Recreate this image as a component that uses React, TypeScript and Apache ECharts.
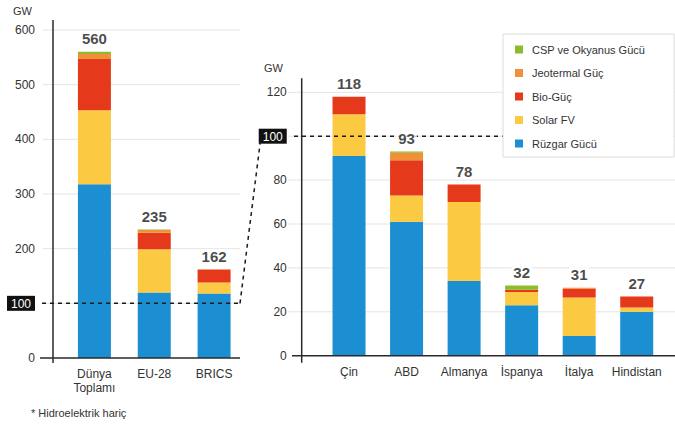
import { useEffect, useRef } from "react";
import * as echarts from "echarts";

// Installed renewable capacity (GW), hydro excluded
const leftCategories = ["Dünya\nToplamı", "EU-28", "BRICS"];
const rightCategories = ["Çin", "ABD", "Almanya", "İspanya", "İtalya", "Hindistan"];

const seriesNames = ["Rüzgar Gücü", "Solar FV", "Bio-Güç", "Jeotermal Güç", "CSP ve Okyanus Gücü"];
const legendOrder = ["CSP ve Okyanus Gücü", "Jeotermal Güç", "Bio-Güç", "Solar FV", "Rüzgar Gücü"];
const seriesColors = ["#1b8fd1", "#fcc942", "#e5391b", "#f0913a", "#8dbb2a"];

const leftWind = [318, 120, 118];
const leftSolar = [135, 79, 20];
const leftBio = [94, 30, 24];
const leftGeo = [9, 5, 0];
const leftCsp = [4, 1, 0];
const leftTotals = [560, 235, 162];

const rightWind = [91, 61, 34, 23, 9, 20];
const rightSolar = [19, 12, 36, 6, 17.5, 2];
const rightBio = [8, 16, 8, 1, 4, 5];
const rightGeo = [0, 3.5, 0, 0, 0.5, 0];
const rightCsp = [0, 0.5, 0, 2, 0, 0];
const rightTotals = [118, 93, 78, 32, 31, 27];

const leftTicks = [0, 100, 200, 300, 400, 500, 600];
const rightTicks = [0, 20, 40, 60, 80, 100, 120];
const threshold = 100;
const unitLabel = "GW";
const footnote = "* Hidroelektrik hariç";

const FONT = "'Liberation Sans', Arial, sans-serif";
const TEXT = "#333";

export default function App() {
  const ref = useRef<HTMLDivElement>(null);

  useEffect(() => {
    if (!ref.current) return;
    const chart = echarts.init(ref.current, undefined, { renderer: "svg" });

    const leftData = [leftWind, leftSolar, leftBio, leftGeo, leftCsp];
    const rightData = [rightWind, rightSolar, rightBio, rightGeo, rightCsp];

    const boxLabel = (v: number) => (v === threshold ? `{box|${v}}` : `${v}`);
    const rich = {
      box: {
        backgroundColor: "#111",
        color: "#fff",
        fontSize: 12,
        fontFamily: FONT,
        padding: [2, 4, 1, 4],
      },
    };

    const makeBars = (data: number[][], idx: number, stack: string) =>
      data.map((vals, i) => ({
        type: "bar",
        name: seriesNames[i],
        xAxisIndex: idx,
        yAxisIndex: idx,
        stack,
        barWidth: 33,
        itemStyle: { color: seriesColors[i] },
        data: vals,
        z: 2,
      }));

    const makeTotals = (totals: number[], idx: number) => ({
      type: "scatter",
      name: "Toplam",
      xAxisIndex: idx,
      yAxisIndex: idx,
      symbolSize: 1,
      itemStyle: { color: "rgba(0,0,0,0)" },
      z: 20,
      label: {
        show: true,
        position: "top",
        distance: 5,
        fontSize: 15,
        fontWeight: "bold",
        fontFamily: FONT,
        color: "#1a1a1a",
        backgroundColor: "#fff",
        padding: [0, 2],
        formatter: (p: any) => `${p.value}`,
      },
      data: totals,
    });

    const yAxisBase = {
      type: "value",
      min: 0,
      splitLine: { show: false },
      axisLine: { show: false },
      axisTick: { show: false },
    };

    chart.setOption({
      animation: false,
      backgroundColor: "#fff",
      textStyle: { fontFamily: FONT },
      legend: {
        data: legendOrder,
        orient: "vertical",
        left: 503,
        top: 34,
        z: 30,
        backgroundColor: "#fff",
        borderColor: "#dcdcdc",
        borderWidth: 1,
        padding: [10, 29, 8, 12],
        itemWidth: 8,
        itemHeight: 8,
        itemGap: 12.5,
        icon: "rect",
        selectedMode: false,
        textStyle: { fontSize: 11, color: TEXT, fontFamily: FONT, padding: [0, 0, 0, 4] },
      },
      grid: [
        { left: 64.5, top: 30, width: 179.5, height: 328, outerBoundsMode: "none" },
        { left: 320.25, top: 92.3, width: 345.25, height: 263.4, outerBoundsMode: "none" },
      ],
      xAxis: [0, 1].map((i) => ({
        type: "category",
        gridIndex: i,
        data: i === 0 ? leftCategories : rightCategories,
        axisLine: { show: false },
        axisTick: { show: false },
        axisLabel: {
          interval: 0,
          fontSize: 12,
          color: TEXT,
          fontFamily: FONT,
          margin: 9,
          lineHeight: 14,
        },
      })),
      yAxis: [
        {
          ...yAxisBase,
          gridIndex: 0,
          max: leftTicks[leftTicks.length - 1],
          interval: 100,
          offset: 11.5,
          axisLabel: { fontSize: 12, color: TEXT, fontFamily: FONT, margin: 18, formatter: boxLabel, rich },
        },
        {
          ...yAxisBase,
          gridIndex: 1,
          max: rightTicks[rightTicks.length - 1],
          interval: 20,
          offset: 18.5,
          axisLabel: { fontSize: 12, color: TEXT, fontFamily: FONT, margin: 15, formatter: boxLabel, rich },
        },
      ],
      series: [
        ...makeBars(leftData, 0, "left"),
        makeTotals(leftTotals, 0),
        ...makeBars(rightData, 1, "right"),
        makeTotals(rightTotals, 1),
      ],
    });

    // Guides, axes and the 100 GW link line, placed through the axis scales
    const yL = (v: number) => chart.convertToPixel({ yAxisIndex: 0 }, v) as number;
    const yR = (v: number) => chart.convertToPixel({ yAxisIndex: 1 }, v) as number;
    const axisXL = 53;
    const axisXR = 301.7;

    const line = (x1: number, y1: number, x2: number, y2: number, style: any, z: number) => ({
      type: "line",
      silent: true,
      z,
      shape: { x1, y1, x2, y2 },
      style,
    });
    const gridStyle = { stroke: "#e4e4e4", lineWidth: 1 };
    const axisStyle = { stroke: "#2a2a2a", lineWidth: 1.5 };
    const dashStyle = { stroke: "#1a1a1a", lineWidth: 1.5, lineDash: [4, 4] };

    const elements: any[] = [];
    leftTicks
      .filter((t) => t !== 0)
      .forEach((t) => elements.push(line(43, yL(t), 240, yL(t), gridStyle, 0)));
    rightTicks
      .filter((t) => t !== 0)
      .forEach((t) => elements.push(line(288, yR(t), 675, yR(t), gridStyle, 0)));

    elements.push(line(axisXL, yL(600) - 10, axisXL, yL(0) + 5, axisStyle, 5));
    elements.push(line(axisXR, yR(120) - 14, axisXR, yR(0) + 7, axisStyle, 5));
    elements.push(line(40, yL(0), 240, yL(0), axisStyle, 5));
    elements.push(line(292, yR(0), 675, yR(0), axisStyle, 5));

    elements.push(line(42, yL(threshold), 240, yL(threshold), dashStyle, 10));
    elements.push(line(240, yL(threshold), 261, yR(threshold), dashStyle, 10));
    elements.push(line(294, yR(threshold), 675, yR(threshold), dashStyle, 10));

    elements.push({
      type: "text",
      silent: true,
      x: 13,
      y: 11,
      style: { text: unitLabel, fontSize: 11, fill: TEXT, fontFamily: FONT, verticalAlign: "middle" },
    });
    elements.push({
      type: "text",
      silent: true,
      x: 264,
      y: 68,
      style: { text: unitLabel, fontSize: 11, fill: TEXT, fontFamily: FONT, verticalAlign: "middle" },
    });
    elements.push({
      type: "text",
      silent: true,
      x: 31,
      y: 413,
      style: { text: footnote, fontSize: 11, fill: TEXT, fontFamily: FONT, verticalAlign: "middle" },
    });

    chart.setOption({ graphic: { elements } });

    return () => chart.dispose();
  }, []);

  return (
    <div
      ref={ref}
      style={{ position: "fixed", left: 0, top: 0, width: 675, height: 427, background: "#fff" }}
    />
  );
}
